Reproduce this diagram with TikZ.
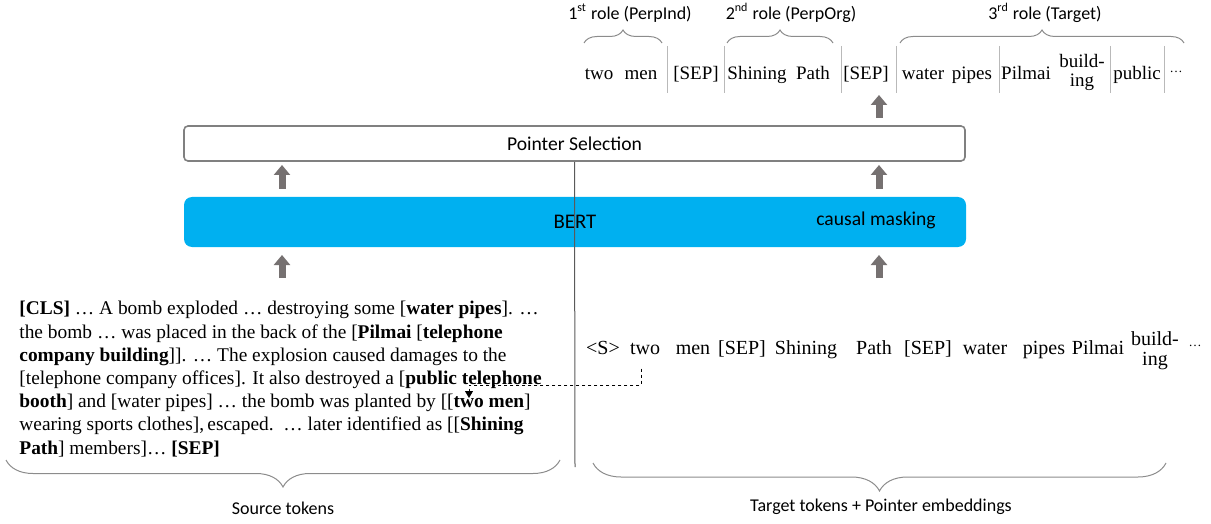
\documentclass[tikz,border=0pt]{standalone}
\usepackage{fontspec}
\setmainfont{Liberation Serif}
\newfontfamily\calibri{Carlito}
\usepackage{xcolor}
\definecolor{azulbert}{RGB}{0,176,240}
\definecolor{grisflecha}{RGB}{118,113,113}
\definecolor{grisborde}{RGB}{128,128,128}
\definecolor{grisllave}{RGB}{140,140,140}
\definecolor{grissep}{RGB}{185,185,185}
\usepackage{tikz}
\usetikzlibrary{arrows.meta, decorations.pathreplacing, positioning}

\begin{document}
\begin{tikzpicture}[x=0.5pt, y=-0.5pt,
    tok/.style={font=\fontsize{9.5}{11}\selectfont, inner sep=0pt, anchor=base},
    tokb/.style={font=\fontsize{10}{12}\selectfont, inner sep=0pt, anchor=base},
    etiq/.style={font=\calibri\fontsize{9}{11}\selectfont, inner sep=0pt},
    puntos/.style={inner sep=0pt, font=\fontsize{6.5}{7}\selectfont},
    llave/.style={draw=grisllave, line width=0.5pt, decorate, decoration={brace, amplitude=#1}},
    flechagris/.style={draw=grisflecha, line width=3.5pt, -{Triangle[length=5pt, width=8pt]}},
    separador/.style={draw=grissep, line width=0.5pt}]
    \useasboundingbox (0,0) rectangle (1211,524);

    % Roles
    \node[etiq] (rol1) at (630,13) {1\textsuperscript{st} role (PerpInd)};
    \node[etiq] (rol2) at (791,13) {2\textsuperscript{nd} role (PerpOrg)};
    \node[etiq] (rol3) at (1045,13) {3\textsuperscript{rd} role (Target)};
    \draw[llave=6.5pt] (584,43) -- (662,43);
    \draw[llave=6.5pt] (727,43) -- (833,43);
    \draw[llave=6.5pt] (900,43) -- (1184,43);

    % Salida (punteros)
    \foreach \x/\t/\n in {599/two/s1, 641/men/s2, 696/[SEP]/s3, 757/Shining/s4, 813/Path/s5,
        866/[SEP]/s6, 923/water/s7, 972/pipes/s8, 1026/Pilmai/s9, 1137/public/s10}
        \node[tok] (\n) at (\x,80) {\t};
    \node[tok] (s11) at (1082,68) {build-};
    \node[tok] (s12) at (1082,87) {ing};
    \node[puntos] (s13) at (1176,72) {…};
    \foreach \x in {667,724,841,896,999,1110,1164}
        \draw[separador] (\x,46) -- (\x,93);

    % Cajas
    \node[draw=grisborde, line width=0.8pt, rounded corners=2pt, fill=white,
          minimum width=390.5pt, minimum height=17.5pt, inner sep=0pt,
          font=\calibri\fontsize{9.8}{11}\selectfont] (ptr) at (574.5,143.5) {Pointer Selection};
    \node[fill=azulbert, rounded corners=4pt, minimum width=391pt, minimum height=25pt,
          inner sep=0pt, font=\calibri\fontsize{10.4}{12}\selectfont] (bert) at (575,222) {BERT};
    \node[inner sep=0pt, font=\calibri\fontsize{9.8}{11}\selectfont] (causal) at (876,220) {causal masking};

    % Flechas
    \coordinate (f1) at (282,278); \coordinate (f2) at (282,255);
    \coordinate (f3) at (879,278); \coordinate (f4) at (879,255);
    \coordinate (f5) at (282,189); \coordinate (f6) at (282,165);
    \coordinate (f7) at (879,189); \coordinate (f8) at (879,165);
    \coordinate (f9) at (879,118); \coordinate (f10) at (879,95);
    \draw[flechagris] (f1) -- (f2);
    \draw[flechagris] (f3) -- (f4);
    \draw[flechagris] (f5) -- (f6);
    \draw[flechagris] (f7) -- (f8);
    \draw[flechagris] (f9) -- (f10);

    % Division fuente / destino
    \coordinate (fin) at (575,467);
    \draw[grisborde!70!black, line width=0.5pt] (ptr.south) -- (fin);

    % Texto fuente
    \node[font=\fontsize{9.7}{11.6}\selectfont, align=left, inner sep=0pt, anchor=north west] (fuente) at (19,301) {%
        \textbf{[CLS]} … A bomb exploded … destroying some [\textbf{water pipes}]. …\\
        the bomb … was placed in the back of the [\textbf{Pilmai} [\textbf{telephone}\\
        \textbf{company building}]]. … The explosion caused damages to the\\
        {[}telephone company offices]. It also destroyed a [\textbf{public telephone}\\
        \textbf{booth}] and [water pipes] … the bomb was planted by [[\textbf{two men}]\\
        wearing sports clothes],\,escaped.\ \ … later identified as [[\textbf{Shining}\\
        \textbf{Path}] members]… \textbf{[SEP]}};

    % Entrada destino
    \foreach \x/\t/\n in {603/<S>/b1, 645/two/b2, 693/men/b3, 742/[SEP]/b4, 806/Shining/b5,
        874/Path/b6, 928/[SEP]/b7, 985/water/b8, 1044/pipes/b9, 1098/Pilmai/b10}
        \node[tokb] (\n) at (\x,354) {\t};
    \node[tokb] (b11) at (1155,345) {build-};
    \node[tokb] (b12) at (1155,365) {ing};
    \node[puntos] (b13) at (1195,346) {…};

    % Puntero
    \coordinate (esq) at (469,385);
    \coordinate (destino) at (469,398);
    \draw[line width=0.5pt, dash pattern=on 1.8pt off 1.2pt, -{Triangle[length=3.5pt, width=4pt]}]
        (b2.south) ++(-4,14) |- (esq) -- (destino);

    % Llaves inferiores
    \draw[llave=13.5pt] (560,460) -- (6,460);
    \draw[llave=14pt] (1166,463) -- (593,463);
    \node[etiq] (src) at (283,508) {Source tokens};
    \node[etiq] (tgt) at (881,507) {Target tokens + Pointer embeddings};
\end{tikzpicture}
\end{document}
